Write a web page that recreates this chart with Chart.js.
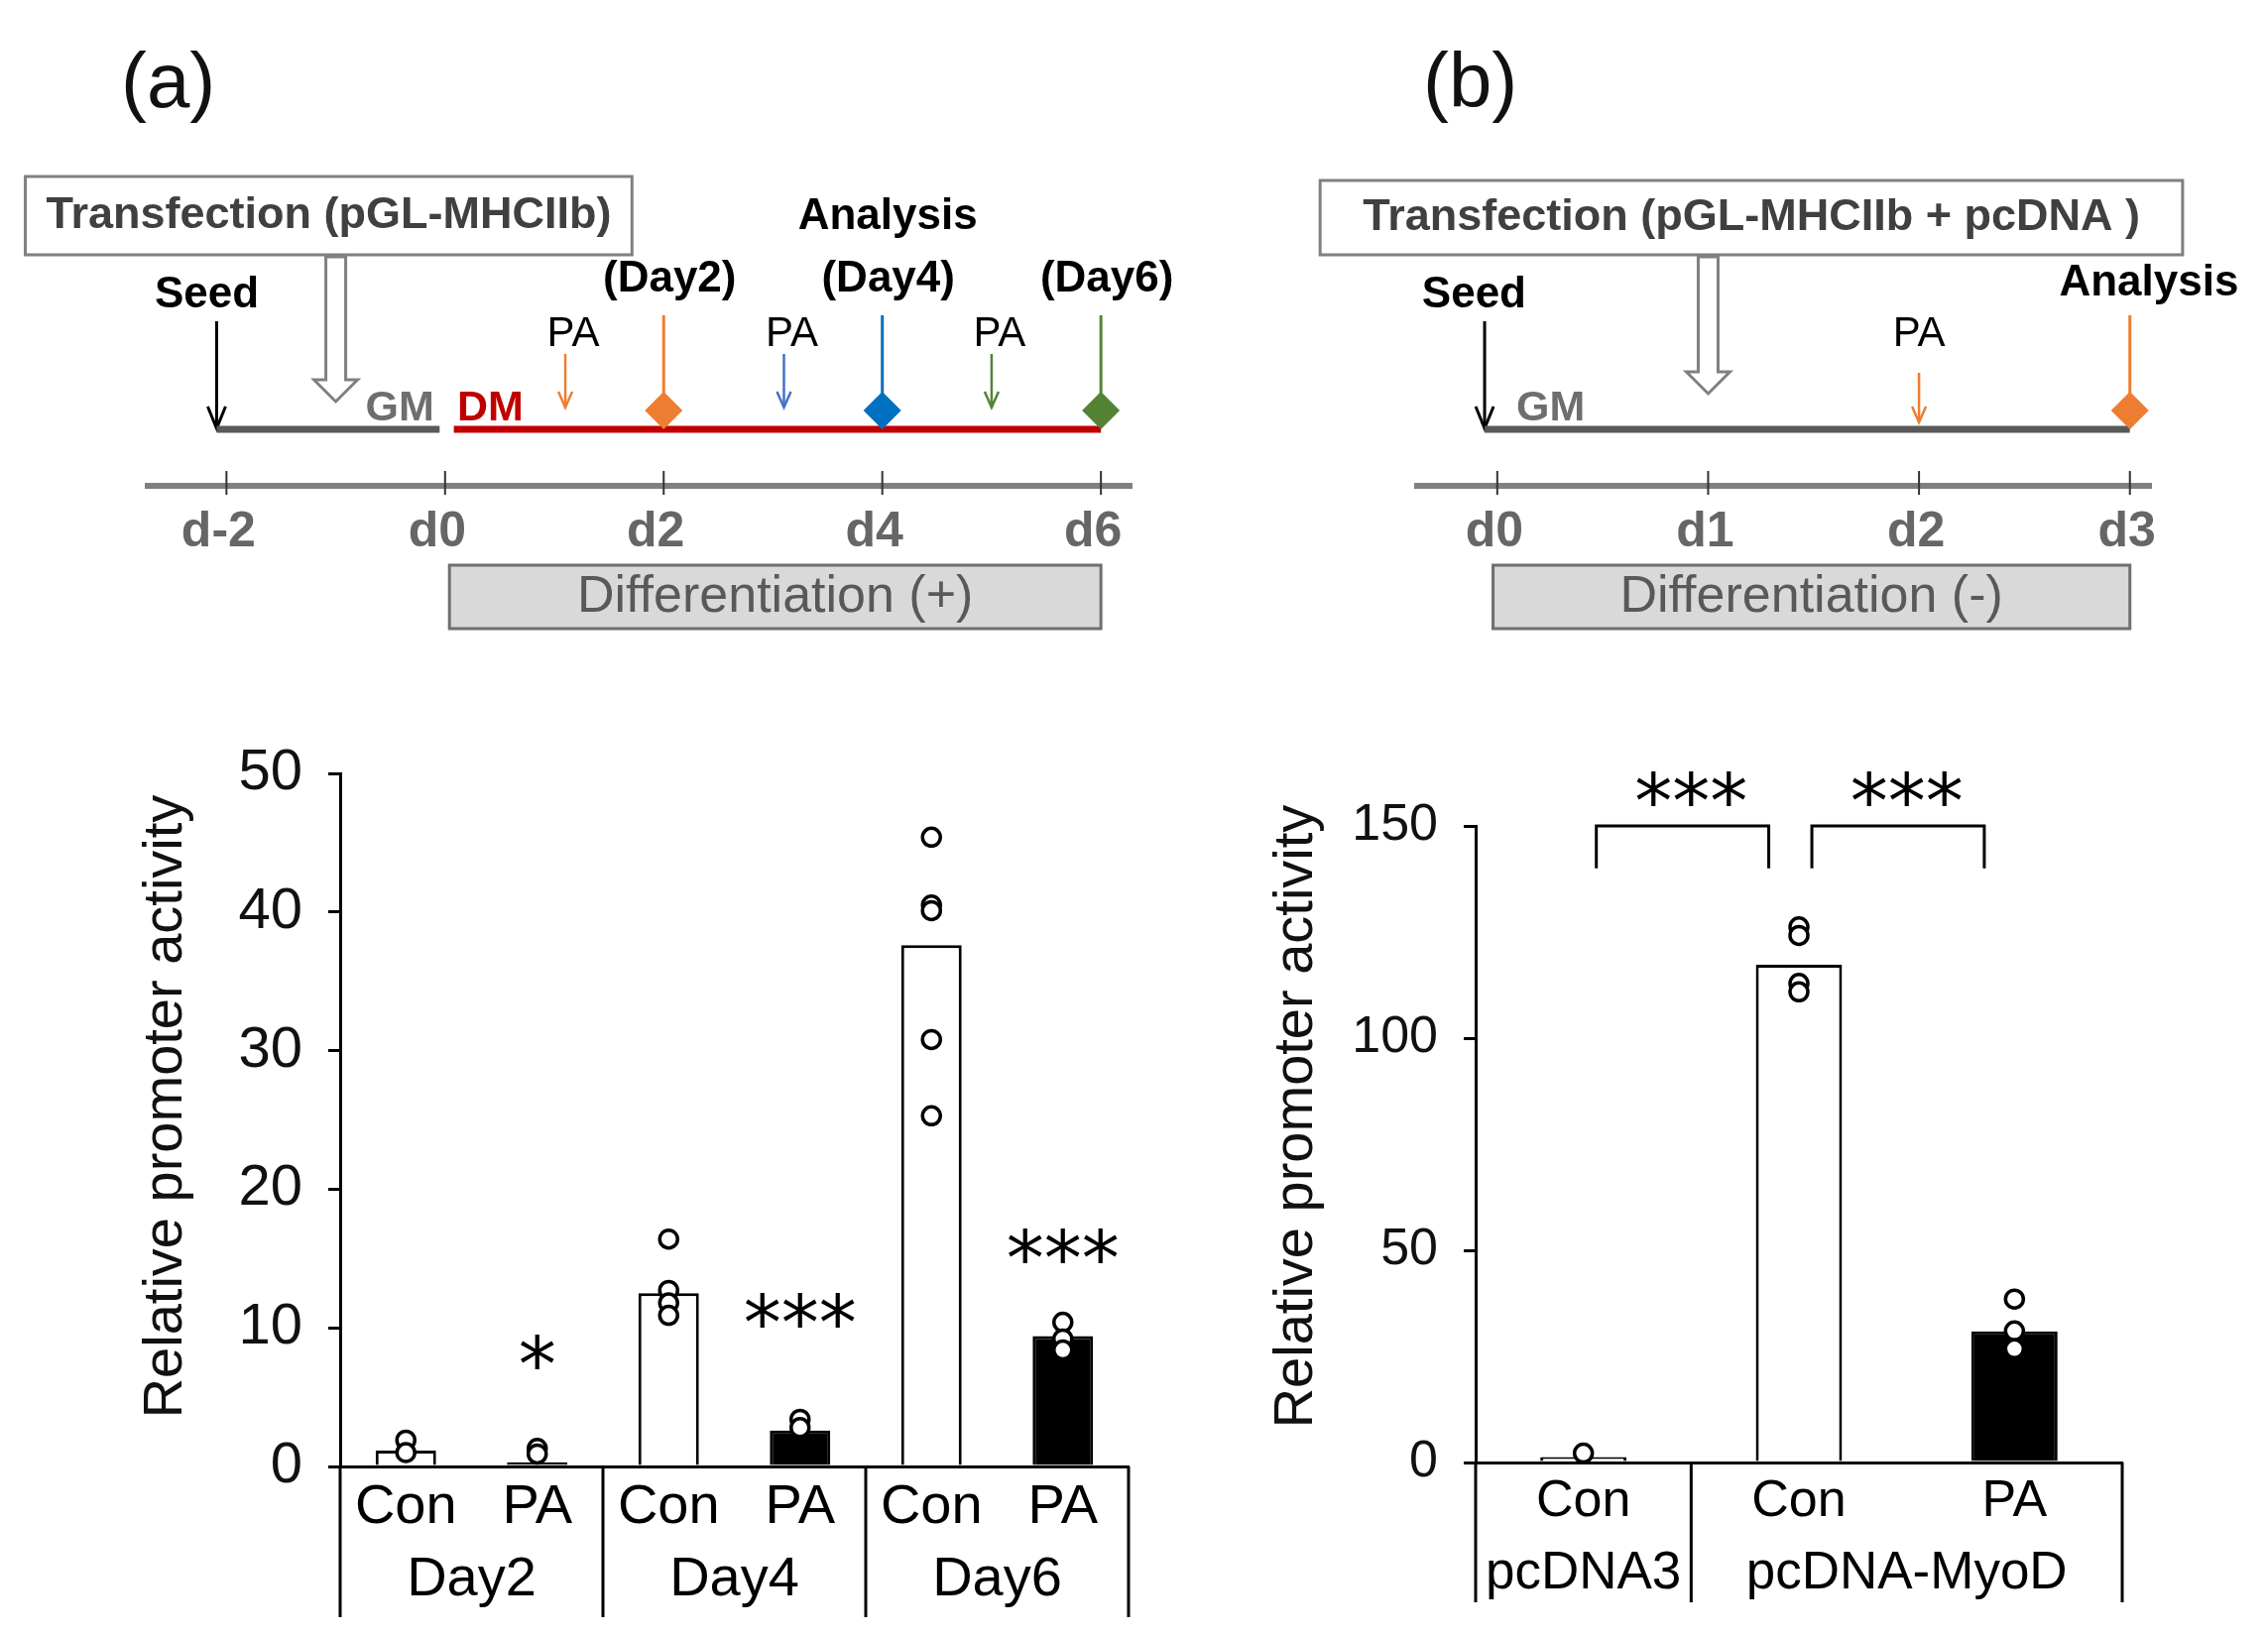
<!DOCTYPE html>
<html>
<head>
<meta charset="utf-8">
<script src="https://cdn.jsdelivr.net/npm/chart.js@4.4.1/dist/chart.umd.min.js"></script>
<style>
  html, body { margin: 0; padding: 0; background: #fff; }
  #page { position: relative; width: 2287px; height: 1651px; overflow: hidden; font-family: 'Liberation Sans', Arial, sans-serif; }
  .panel-label { position: absolute; font-size: 78px; line-height: 1; color: #111; }
  canvas { position: absolute; }
</style>
</head>
<body>
<div id="page">
  <div class="panel-label" style="left:122px; top:42px;">(a)</div>
  <div class="panel-label" style="left:1435px; top:42px;">(b)</div>
  <canvas id="timelineA" width="1240" height="700" style="left:0; top:0;"></canvas>
  <canvas id="timelineB" width="1047" height="700" style="left:1240px; top:0;"></canvas>
  <canvas id="barsA" width="1180" height="911" style="left:0; top:740px;"></canvas>
  <canvas id="barsB" width="1047" height="911" style="left:1240px; top:740px;"></canvas>
</div>
<script>
// ---- timeline (a) ----
const dayTicksA = [-2, 0, 2, 4, 6];
const paDaysA = [1.1, 3.1, 5.0];
const analysisDaysA = [2, 4, 6];
const analysisLabelsA = ['(Day2)', '(Day4)', '(Day6)'];

// ---- timeline (b) ----
const dayTicksB = [0, 1, 2, 3];
const paDaysB = [2];
const analysisDaysB = [3];

// ---- bar chart (a) ----
const catsA = ['Con', 'PA', 'Con', 'PA', 'Con', 'PA'];
const groupsA = ['Day2', 'Day4', 'Day6'];
const groupSpansA = [[0, 1], [2, 3], [4, 5]];
const meansA = [1.15, 0.3, 12.5, 2.6, 37.6, 9.4];
const pointsA = [
  [1.9, 1.0],
  [1.3, 0.9],
  [16.4, 12.7, 11.8, 10.9],
  [3.4, 2.8],
  [45.4, 40.5, 40.1, 30.8, 25.3],
  [10.4, 9.2, 8.4]
];
const starsA = ['', '*', '', '***', '', '***'];
const starLevelA = [null, 8.4, null, 11.4, null, 16.0];

// ---- bar chart (b) ----
const catsB = ['Con', 'Con', 'PA'];
const groupsB = ['pcDNA3', 'pcDNA-MyoD'];
const groupSpansB = [[0, 0], [1, 2]];
const meansB = [1.3, 117.3, 30.9];
const pointsB = [
  [2.2],
  [126.2, 124.2, 112.9, 110.9],
  [38.5, 31.0, 26.8]
];
const comparisonsB = [[0, 1], [1, 2]];

const FONT = "'Liberation Sans', Arial, sans-serif";
const STAR_FONT = "76px 'DejaVu Sans', sans-serif";
Chart.defaults.font.family = FONT;
Chart.defaults.color = '#000';

const ORANGE = '#ED7D31', BLUE = '#0070C0', GREEN = '#548235';

function seg(ctx, x1, y1, x2, y2) {
  ctx.beginPath(); ctx.moveTo(x1, y1); ctx.lineTo(x2, y2); ctx.stroke();
}
function vArrow(ctx, x, y1, y2, hw, hl) {
  seg(ctx, x, y1, x, y2);
  ctx.beginPath();
  ctx.moveTo(x - hw, y2 - hl); ctx.lineTo(x, y2); ctx.lineTo(x + hw, y2 - hl);
  ctx.stroke();
}

// draws the schematic parts of a timeline, using the chart's x (days) and y (px above axis) scales
const timelinePlugin = {
  id: 'timeline',
  beforeDatasetsDraw(chart, args, o) {
    const ctx = chart.ctx;
    const X = d => chart.scales.x.getPixelForValue(d);
    const Y = v => chart.scales.y.getPixelForValue(v);
    ctx.save();
    ctx.textAlign = 'center';
    ctx.textBaseline = 'middle';

    // tick marks on the day axis
    ctx.strokeStyle = '#333'; ctx.lineWidth = 2;
    o.ticks.forEach(d => seg(ctx, X(d), Y(15), X(d), Y(-9)));

    // transfection box + hollow arrow
    const b = o.box;
    ctx.fillStyle = '#fff'; ctx.strokeStyle = '#808080'; ctx.lineWidth = 3;
    ctx.fillRect(X(b.from), Y(b.top), X(b.to) - X(b.from), Y(b.bottom) - Y(b.top));
    ctx.strokeRect(X(b.from), Y(b.top), X(b.to) - X(b.from), Y(b.bottom) - Y(b.top));
    ctx.fillStyle = '#404040';
    ctx.font = `bold 45px ${FONT}`;
    ctx.fillText(b.text, (X(b.from) + X(b.to)) / 2, (Y(b.top) + Y(b.bottom)) / 2);

    const hx = X(o.hollow.day), top = Y(b.bottom) + 2, tip = Y(o.hollow.tip);
    ctx.beginPath();
    ctx.moveTo(hx - 10, top); ctx.lineTo(hx + 10, top); ctx.lineTo(hx + 10, tip - 22);
    ctx.lineTo(hx + 22, tip - 22); ctx.lineTo(hx, tip); ctx.lineTo(hx - 22, tip - 22);
    ctx.lineTo(hx - 10, tip - 22); ctx.closePath();
    ctx.fillStyle = '#fff'; ctx.fill();
    ctx.strokeStyle = '#808080'; ctx.lineWidth = 3; ctx.stroke();

    // seed arrow
    ctx.strokeStyle = '#000'; ctx.lineWidth = 3;
    vArrow(ctx, X(o.seed.day), Y(166), Y(58), 9, 22);
    ctx.fillStyle = '#000';
    ctx.font = `bold 44px ${FONT}`;
    ctx.fillText('Seed', X(o.seed.labelDay), Y(192));

    // medium bars
    ctx.lineWidth = 7;
    o.media.forEach(m => {
      ctx.strokeStyle = m.color;
      seg(ctx, X(m.from), Y(57), X(m.to), Y(57));
      ctx.fillStyle = m.textColor;
      ctx.font = `bold 43px ${FONT}`;
      ctx.textAlign = m.align;
      ctx.textBaseline = 'alphabetic';
      ctx.fillText(m.name, X(m.labelDay), Y(66));
    });
    ctx.textAlign = 'center'; ctx.textBaseline = 'middle';

    // PA arrows
    o.pa.forEach((d, i) => {
      ctx.strokeStyle = o.paColors[i]; ctx.lineWidth = 2.5;
      vArrow(ctx, X(d), Y(o.paTop), Y(o.paTip), 7, 16);
      ctx.fillStyle = '#000';
      ctx.font = `42px ${FONT}`;
      ctx.fillText('PA', X(d) + o.paShift, Y(153));
    });

    // analysis lines
    o.analysis.forEach((d, i) => {
      ctx.strokeStyle = o.analysisColors[i]; ctx.lineWidth = 3;
      seg(ctx, X(d), Y(172), X(d), Y(76));
      if (o.analysisLabels[i]) {
        ctx.fillStyle = '#000';
        ctx.font = `bold 44px ${FONT}`;
        ctx.fillText(o.analysisLabels[i], X(d) + 6, Y(208));
      }
    });
    ctx.fillStyle = '#000';
    ctx.font = `bold 44px ${FONT}`;
    ctx.fillText('Analysis', X(o.analysisTitle.day), Y(o.analysisTitle.y));

    // differentiation box below the axis
    const f = o.diff;
    ctx.fillStyle = '#d9d9d9'; ctx.strokeStyle = '#6f6f6f'; ctx.lineWidth = 3;
    ctx.fillRect(X(f.from), Y(-80), X(f.to) - X(f.from), Y(-144) - Y(-80));
    ctx.strokeRect(X(f.from), Y(-80), X(f.to) - X(f.from), Y(-144) - Y(-80));
    ctx.fillStyle = '#595959';
    ctx.font = `52px ${FONT}`;
    ctx.fillText(f.text, (X(f.from) + X(f.to)) / 2, Y(-113));
    ctx.restore();
  }
};

function timelineChart(id, ticks, min, max, padLeft, padRight, labelShift, diamondDays, diamondColors, cfg) {
  return new Chart(document.getElementById(id), {
    type: 'scatter',
    data: {
      datasets: [{
        data: diamondDays.map(d => ({ x: d, y: 76 })),
        pointStyle: 'rectRot',
        pointRadius: 19,
        backgroundColor: diamondColors,
        borderWidth: 0
      }]
    },
    options: {
      responsive: false, animation: false, events: [],
      layout: { autoPadding: false, padding: { left: padLeft, right: padRight, top: 0, bottom: 0 } },
      plugins: { legend: { display: false }, tooltip: { enabled: false }, timeline: cfg },
      scales: {
        x: {
          type: 'linear', min: min, max: max,
          afterBuildTicks: s => { s.ticks = ticks.map(v => ({ value: v })); },
          afterFit: s => { s.height = 210; },
          grid: { display: false, drawTicks: false },
          border: { display: true, color: '#808080', width: 6 },
          ticks: { padding: 17, color: '#666', autoSkip: false, maxRotation: 0, labelOffset: labelShift,
                   font: { size: 50, weight: 'bold' }, callback: v => 'd' + v }
        },
        y: { display: false, min: 0, max: 490 }
      }
    },
    plugins: [timelinePlugin]
  });
}

timelineChart('timelineA', dayTicksA, -2.72, 6.28, 149, 99, -8, analysisDaysA, [ORANGE, BLUE, GREEN], {
  ticks: dayTicksA,
  box: { from: -3.84, to: 1.71, top: 312, bottom: 233, text: 'Transfection (pGL-MHCIIb)' },
  hollow: { day: -1, tip: 85 },
  seed: { day: -2.09, labelDay: -2.18 },
  media: [
    { name: 'GM', from: -2.09, to: -0.05, color: '#595959', textColor: '#6e6e6e', labelDay: -0.1, align: 'right' },
    { name: 'DM', from: 0.08, to: 6, color: '#C00000', textColor: '#C00000', labelDay: 0.11, align: 'left' }
  ],
  pa: paDaysA, paColors: [ORANGE, '#4472C4', GREEN], paTop: 133, paTip: 79, paShift: 8,
  analysis: analysisDaysA, analysisColors: [ORANGE, BLUE, GREEN], analysisLabels: analysisLabelsA,
  analysisTitle: { day: 4.05, y: 271 },
  diff: { from: 0.04, to: 6, text: 'Differentiation (+)' }
});

timelineChart('timelineB', dayTicksB, -0.38, 3.1, 189, 118, -3, analysisDaysB, [ORANGE], {
  ticks: dayTicksB,
  box: { from: -0.84, to: 3.25, top: 308, bottom: 233, text: 'Transfection (pGL-MHCIIb + pcDNA )' },
  hollow: { day: 1, tip: 93 },
  seed: { day: -0.06, labelDay: -0.11 },
  media: [
    { name: 'GM', from: -0.06, to: 3.0, color: '#595959', textColor: '#6e6e6e', labelDay: 0.09, align: 'left' }
  ],
  pa: paDaysB, paColors: [ORANGE], paTop: 114, paTip: 64, paShift: 0,
  analysis: analysisDaysB, analysisColors: [ORANGE], analysisLabels: [''],
  analysisTitle: { day: 3.09, y: 204 },
  diff: { from: -0.02, to: 3.0, text: 'Differentiation (-)' }
});

// group separators, group labels, axis title and significance marks of a bar chart
const groupPlugin = {
  id: 'groups',
  afterDraw(chart, args, o) {
    const ctx = chart.ctx, ca = chart.chartArea;
    const x = chart.scales.x, y = chart.scales.y;
    ctx.save();
    ctx.strokeStyle = '#000'; ctx.lineWidth = 3;
    const bounds = [-0.5, ...o.spans.map(s => s[1] + 0.5)];
    bounds.forEach(b => {
      const px = x.getPixelForValue(b);
      seg(ctx, px, ca.bottom, px, ca.bottom + o.depth);
    });
    ctx.fillStyle = '#000';
    ctx.textAlign = 'center'; ctx.textBaseline = 'middle';
    ctx.font = `${o.fontSize}px ${FONT}`;
    o.names.forEach((g, i) => {
      const [a, b] = o.spans[i];
      ctx.fillText(g, (x.getPixelForValue(a) + x.getPixelForValue(b)) / 2, ca.bottom + o.labelOffset);
    });

    // y axis title
    ctx.save();
    ctx.fillStyle = '#111';
    ctx.font = `56px ${FONT}`;
    ctx.translate(o.titleX, o.titleY);
    ctx.rotate(-Math.PI / 2);
    ctx.fillText('Relative promoter activity', 0, 0);
    ctx.restore();

    // significance marks
    ctx.font = STAR_FONT;
    ctx.textBaseline = 'alphabetic';
    (o.stars || []).forEach((s, i) => {
      if (!s) return;
      ctx.fillText(s, x.getPixelForValue(i), y.getPixelForValue(o.starLevels[i]) + 41);
    });
    (o.comparisons || []).forEach(([a, b]) => {
      const x1 = x.getPixelForValue(a + 0.06), x2 = x.getPixelForValue(b - 0.14);
      ctx.beginPath();
      ctx.moveTo(x1, y.getPixelForValue(o.legLevel));
      ctx.lineTo(x1, y.getPixelForValue(o.bracketLevel));
      ctx.lineTo(x2, y.getPixelForValue(o.bracketLevel));
      ctx.lineTo(x2, y.getPixelForValue(o.legLevel));
      ctx.stroke();
      ctx.fillText('***', x.getPixelForValue((a + b) / 2), y.getPixelForValue(o.starLevel) + 41);
    });
    ctx.restore();
  }
};

function barChart(id, cats, means, points, yMax, yStep, barPct, geom, groupCfg) {
  const dots = points.flatMap((arr, i) => arr.map(v => ({ x: i, y: v })));
  return new Chart(document.getElementById(id), {
    type: 'bar',
    data: {
      labels: cats,
      datasets: [
        {
          type: 'scatter', xAxisID: 'xd', data: dots, order: 0,
          pointRadius: 9, pointBorderWidth: 3.5,
          pointBackgroundColor: '#fff', pointBorderColor: '#000'
        },
        {
          type: 'bar', data: means, order: 1, grouped: false,
          backgroundColor: cats.map(c => c === 'Con' ? '#fff' : '#000'),
          borderColor: '#000', borderWidth: 3,
          barPercentage: barPct, categoryPercentage: 1
        }
      ]
    },
    options: {
      responsive: false, animation: false, events: [],
      layout: { autoPadding: false, padding: { left: 0, top: geom.top, right: geom.right, bottom: 0 } },
      plugins: { legend: { display: false }, tooltip: { enabled: false }, groups: groupCfg },
      scales: {
        x: {
          type: 'category', offset: true,
          afterFit: s => { s.height = geom.xHeight; },
          grid: { display: false, drawTicks: false },
          border: { display: true, color: '#000', width: 3 },
          ticks: { padding: geom.xPad, color: '#000', font: { size: geom.labelSize } }
        },
        xd: { type: 'linear', axis: 'x', display: false, offset: false, min: -0.5, max: cats.length - 0.5 },
        y: {
          min: 0, max: yMax,
          afterFit: s => { s.width = geom.yWidth; s.paddingTop = 0; s.paddingBottom = 0; },
          ticks: { stepSize: yStep, padding: 26, color: '#111', font: { size: geom.tickSize } },
          grid: { display: true, drawOnChartArea: false, drawTicks: true, tickLength: 12, color: '#000', lineWidth: 3 },
          border: { display: true, color: '#000', width: 3 }
        }
      }
    },
    plugins: [groupPlugin]
  });
}

barChart('barsA', catsA, meansA, pointsA, 50, 10, 0.46,
  { top: 40, right: 42, xHeight: 172, yWidth: 343, xPad: 8, labelSize: 56, tickSize: 58 },
  { names: groupsA, spans: groupSpansA, depth: 152, labelOffset: 115, fontSize: 56,
    titleX: 168, titleY: 376, stars: starsA, starLevels: starLevelA });

barChart('barsB', catsB, meansB, pointsB, 150, 50, 0.40,
  { top: 93, right: 147, xHeight: 176, yWidth: 248, xPad: 8, labelSize: 52, tickSize: 52 },
  { names: groupsB, spans: groupSpansB, depth: 141, labelOffset: 112, fontSize: 53,
    titleX: 68, titleY: 386,
    comparisons: comparisonsB, bracketLevel: 150, legLevel: 140, starLevel: 159 });
</script>
</body>
</html>
